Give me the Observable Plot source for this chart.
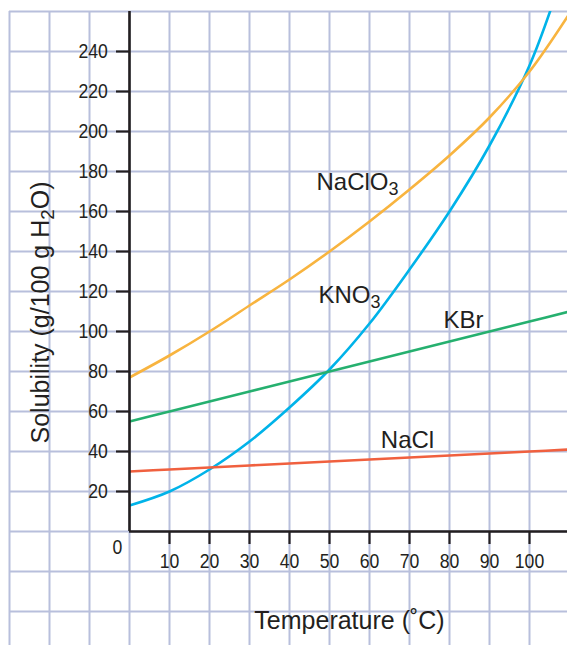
<!DOCTYPE html>
<html><head><meta charset="utf-8">
<script src="https://cdn.jsdelivr.net/npm/d3@7"></script>
<script src="https://cdn.jsdelivr.net/npm/@observablehq/plot@0.6"></script>
<style>
html,body{margin:0;padding:0;background:#fff;}
#chart svg{display:block;}
</style></head>
<body><div id="chart"></div>
<script>
// Temperatures (°C)
const temps = [0, 10, 20, 30, 40, 50, 60, 70, 80, 90, 100, 110];
// Solubility (g / 100 g H2O)
const kno3Temps = [0, 10, 20, 30, 40, 50, 60, 70, 80, 90, 100, 106];
const kno3 = [13, 20, 31, 45, 62, 81, 104, 131, 160, 193, 233, 265];
const naclo3 = [77, 88, 100, 113, 126, 140, 155, 171, 188, 207, 230, 259];
const kbr = [55, 60, 65, 70, 75, 80, 85, 90, 95, 100, 105, 110];
const nacl = [30, 31, 32, 33, 34, 35, 36, 37, 38, 39, 40, 41];

const yTicks = [20, 40, 60, 80, 100, 120, 140, 160, 180, 200, 220, 240];
const xTicks = [10, 20, 30, 40, 50, 60, 70, 80, 90, 100];
const gridX = [-30, -20, -10, 0, 10, 20, 30, 40, 50, 60, 70, 80, 90, 100, 110];
const gridY = [-60, -40, -20, 0, 20, 40, 60, 80, 100, 120, 140, 160, 180, 200, 220, 240, 260];

const seriesNames = ["KNO3", "NaClO3", "KBr", "NaCl"];
const seriesColors = ["#00b3e9", "#f8b43f", "#26b06f", "#f0603f"];
// curve labels: name, temperature, solubility
const labelNames = ["NaClO3", "KNO3", "KBr", "NaCl"];
const labelT = [57, 55, 83.5, 69.5];
const labelS = [174.5, 118, 105.5, 45.5];

const rows = [];
kno3Temps.forEach((t, i) => rows.push({series: "KNO3", t, s: kno3[i]}));
temps.forEach((t, i) => rows.push({series: "NaClO3", t, s: naclo3[i]}));
temps.forEach((t, i) => rows.push({series: "KBr", t, s: kbr[i]}));
temps.forEach((t, i) => rows.push({series: "NaCl", t, s: nacl[i]}));
const labels = labelNames.map((n, i) => ({n, t: labelT[i], s: labelS[i]}));

const tickFont = "'Liberation Sans', Arial, sans-serif";
const textFont = "'Liberation Sans', Arial, Helvetica, sans-serif";
const grid = "#b8bfdc";
const ink = "#231f20";

const plot = Plot.plot({
  width: 567,
  height: 645,
  marginLeft: 129,
  marginRight: 0,
  marginTop: 11,
  marginBottom: 114,
  x: {type: "linear", domain: [0, 109.5], axis: null},
  y: {type: "linear", domain: [0, 260], axis: null},
  color: {domain: seriesNames, range: seriesColors},
  style: {fontFamily: textFont, background: "#fff", overflow: "hidden"},
  marks: [
    Plot.ruleX(gridX, {x: d => d, y1: -60, y2: 260, stroke: grid, strokeWidth: 2}),
    Plot.ruleY(gridY, {y: d => d, x1: -30, x2: 115, stroke: grid, strokeWidth: 2}),
    Plot.line(rows, {x: "t", y: "s", z: "series", stroke: "series", strokeWidth: 2.6, curve: "catmull-rom", clip: true}),
    Plot.ruleX([0], {y1: 0, y2: 260, stroke: ink, strokeWidth: 2.6}),
    Plot.ruleY([0], {x1: 0, x2: 115, stroke: ink, strokeWidth: 2.6}),
    Plot.ruleY(yTicks, {y: d => d, x1: -3.25, x2: 0, stroke: ink, strokeWidth: 2.2}),
    Plot.ruleX(xTicks, {x: d => d, y1: -6.5, y2: 0, stroke: ink, strokeWidth: 2.2}),
    Plot.text(yTicks, {y: d => d, x: -5.4, textAnchor: "end", fontFamily: tickFont, fontSize: 21, fill: ink, text: d => String(d)}),
    Plot.text(xTicks, {x: d => d, y: -15, fontFamily: tickFont, fontSize: 21, fill: ink, text: d => String(d)}),
    Plot.text([0], {x: -3, y: -8, fontFamily: tickFont, fontSize: 21, fill: ink, text: d => String(d)}),
    Plot.text(labels, {x: "t", y: "s", text: "n", fontSize: 24, fill: ink, fontFamily: textFont}),
    Plot.text(["Temperature (˚C)"], {x: 55, y: -44.5, fontSize: 25, fill: ink, fontFamily: textFont, text: d => d}),
    Plot.text(["Solubility (g/100 g H2O)"], {x: -22.2, y: 109.5, rotate: -90, fontSize: 25, fill: ink, fontFamily: textFont, text: d => d})
  ]
});

document.getElementById("chart").appendChild(plot);

const svg = d3.select(plot);
// condensed look for numeric tick labels
svg.selectAll("text").each(function() {
  if (/^\d+$/.test(this.textContent.trim())) {
    const t = this.getAttribute("transform") || "";
    this.setAttribute("transform", t + " scale(0.84,1)");
  }
});
// subscripts for chemical formulas
svg.selectAll("text").each(function() {
  const el = d3.select(this);
  const txt = this.textContent;
  if (!(txt.startsWith("NaClO") || txt.startsWith("KNO") || txt.startsWith("Solubility"))) return;
  const m = txt.match(/^(.*?)(\d)(\D*)$/);
  if (!m) return;
  const target = el.select("tspan").empty() ? el : el.select("tspan");
  target.text(null);
  target.append("tspan").text(m[1]);
  target.append("tspan").attr("font-size", "0.75em").attr("baseline-shift", "-25%").text(m[2]);
  if (m[3]) target.append("tspan").attr("baseline-shift", "0").text(m[3]);
});
</script></body></html>
